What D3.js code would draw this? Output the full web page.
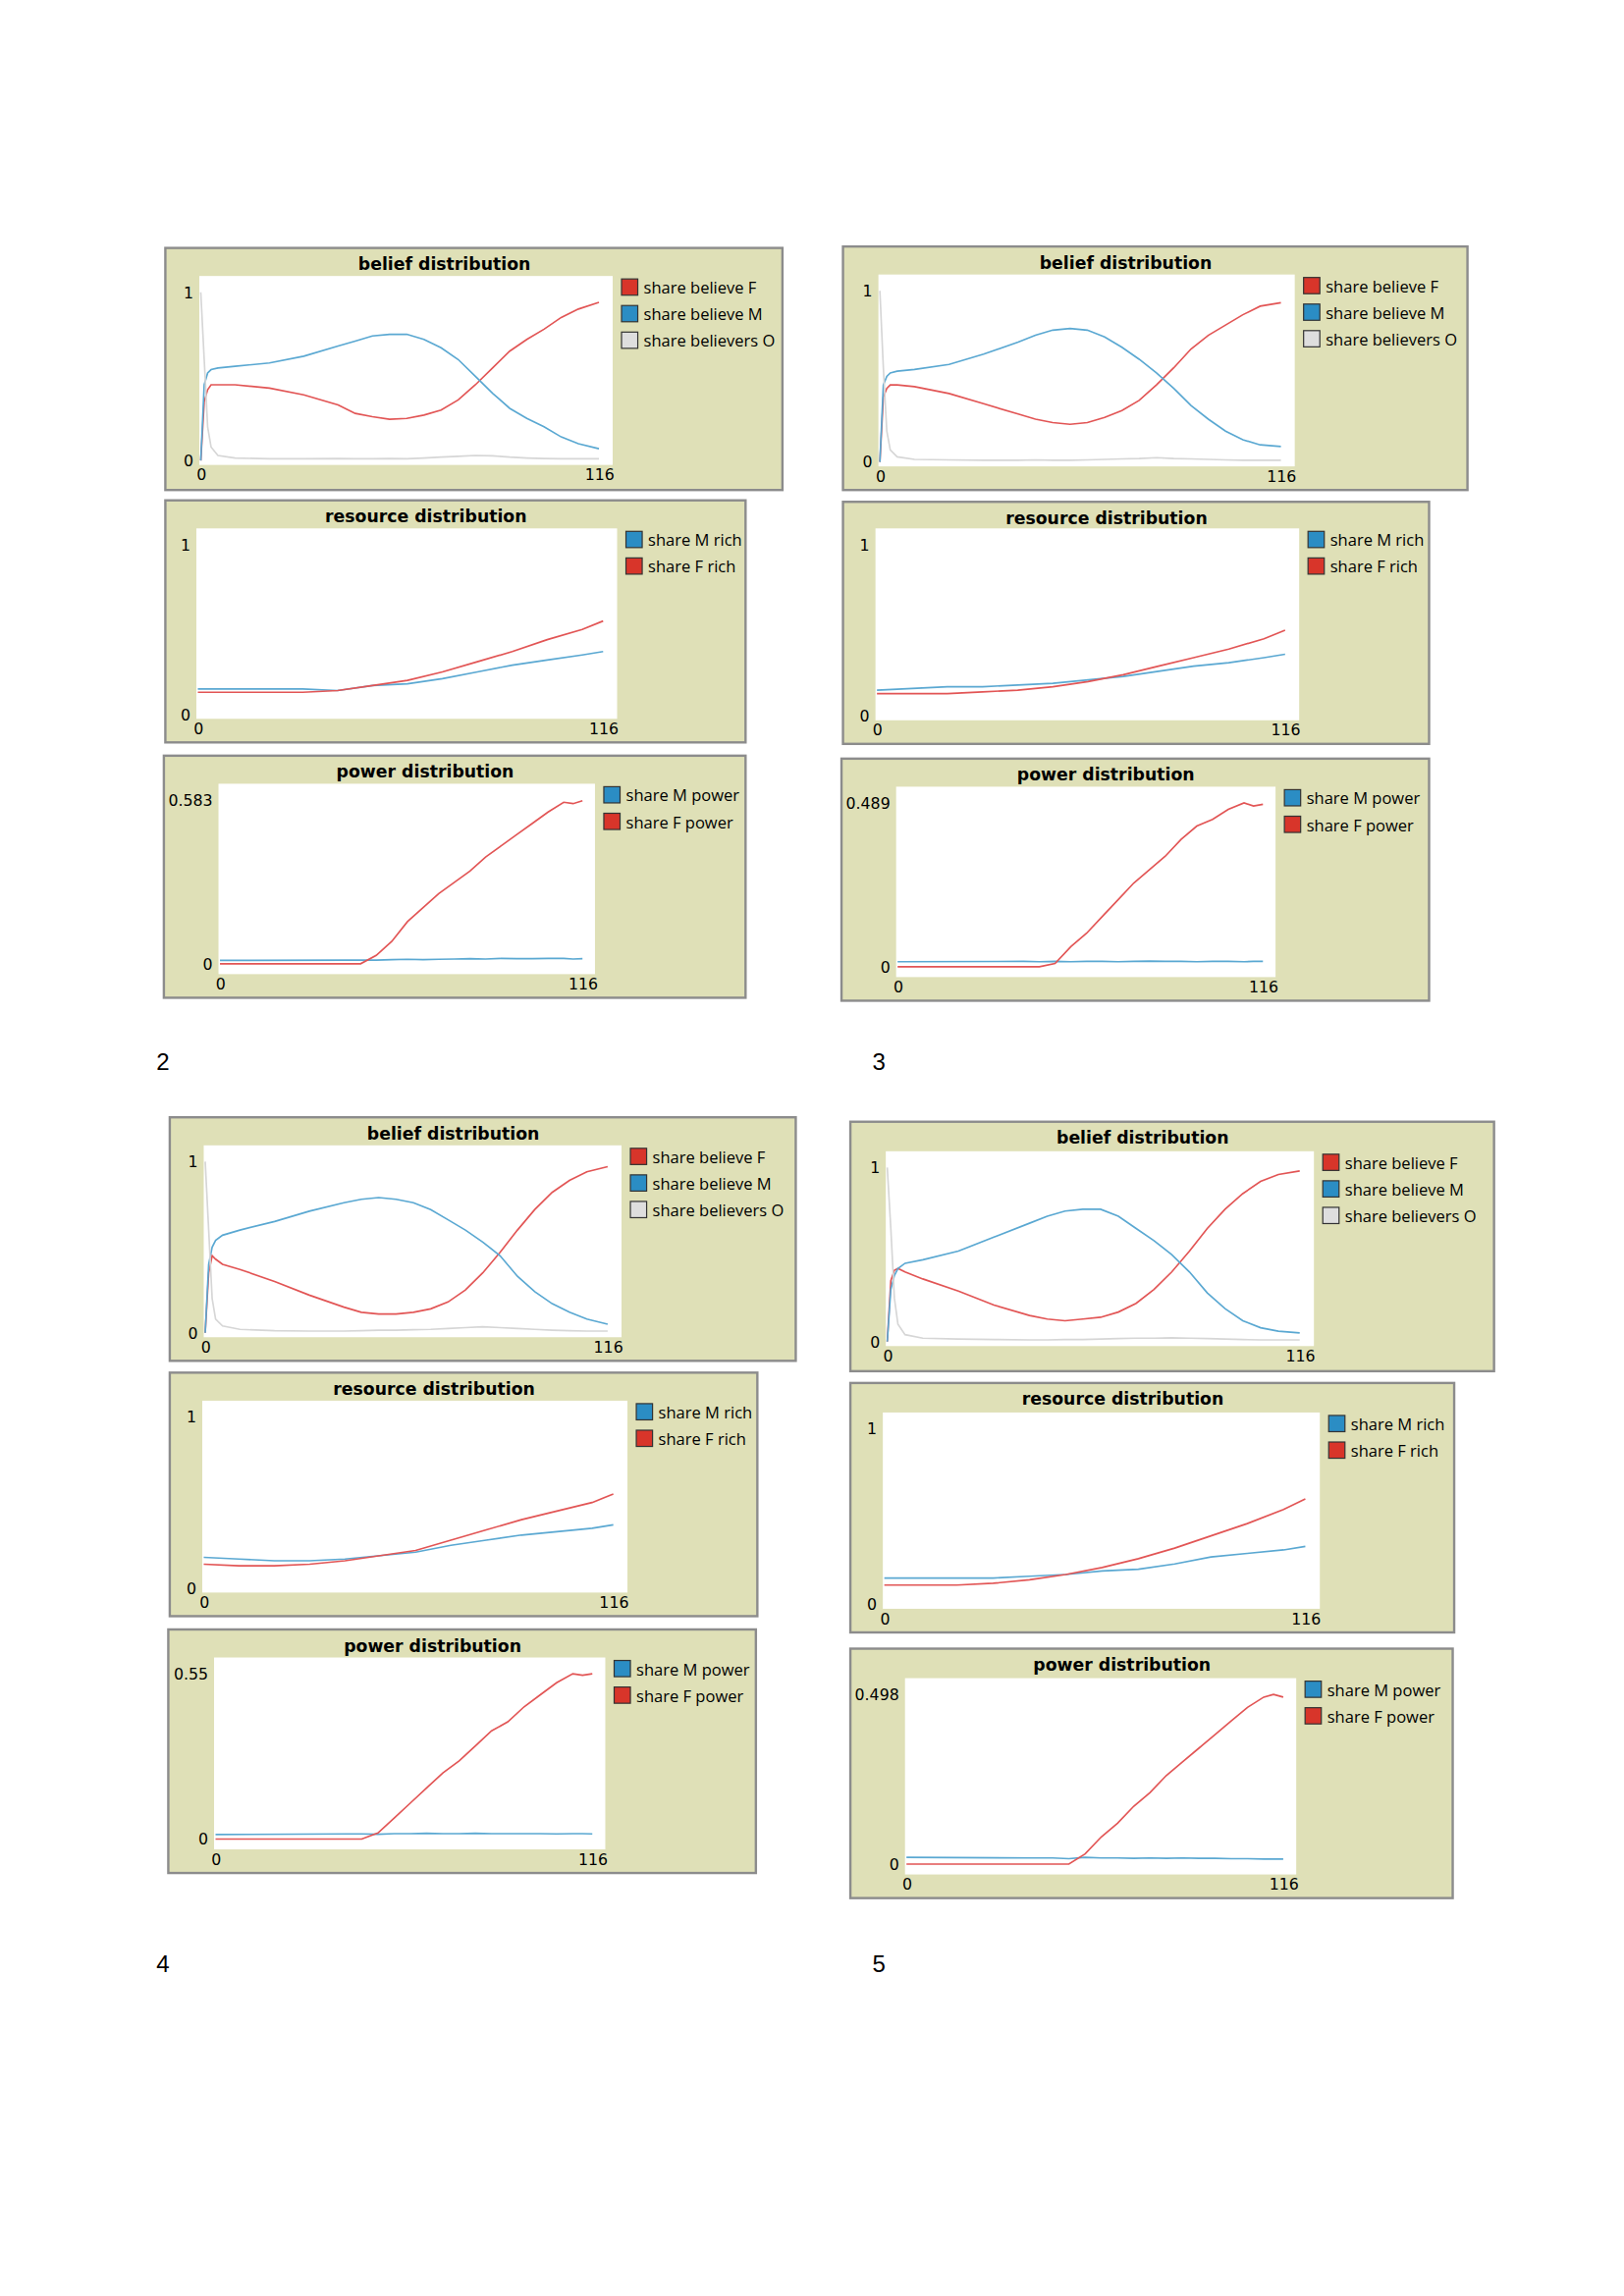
<!DOCTYPE html>
<html><head><meta charset="utf-8">
<script src="https://cdn.jsdelivr.net/npm/d3@7"></script>
<style>body{margin:0;background:#fff}</style>
</head><body>
<svg id="c" width="1654" height="2339"></svg>
<script>
// time indices
const tB = [0,1,2,3,5,10,20,30,40,45,50,55,60,65,70,75,80,85,90,95,100,105,110,116];
const tR = [0,10,20,30,40,50,60,70,80,90,100,110,116];
const tP = [0,40,45,50,55,60,65,70,75,80,85,90,95,100,105,110,113,116];

// belief distribution
const beliefF2 = [0,0.35,0.42,0.45,0.45,0.45,0.43,0.39,0.33,0.28,0.26,0.245,0.25,0.27,0.3,0.36,0.45,0.55,0.65,0.72,0.78,0.85,0.9,0.94];
const beliefM2 = [0,0.45,0.52,0.54,0.55,0.56,0.58,0.62,0.68,0.71,0.74,0.75,0.75,0.72,0.67,0.6,0.5,0.4,0.31,0.25,0.2,0.14,0.1,0.07];
const beliefO2 = [1,0.6,0.2,0.08,0.03,0.015,0.01,0.01,0.012,0.01,0.01,0.012,0.01,0.015,0.02,0.025,0.03,0.028,0.02,0.015,0.012,0.01,0.01,0.01];
const beliefF3 = [0,0.38,0.43,0.45,0.45,0.44,0.4,0.34,0.28,0.25,0.23,0.22,0.23,0.26,0.3,0.36,0.45,0.55,0.66,0.74,0.8,0.86,0.91,0.93];
const beliefM3 = [0,0.45,0.5,0.52,0.53,0.54,0.57,0.63,0.7,0.74,0.77,0.78,0.77,0.73,0.67,0.6,0.52,0.43,0.33,0.25,0.18,0.13,0.1,0.09];
const beliefO3 = [1,0.55,0.18,0.07,0.03,0.015,0.012,0.01,0.01,0.012,0.01,0.01,0.012,0.015,0.018,0.02,0.025,0.02,0.018,0.015,0.012,0.01,0.01,0.01];
const beliefF4 = [0,0.35,0.45,0.43,0.4,0.37,0.3,0.22,0.15,0.12,0.11,0.11,0.12,0.14,0.18,0.25,0.35,0.47,0.6,0.72,0.82,0.89,0.94,0.97];
const beliefM4 = [0,0.4,0.5,0.54,0.57,0.6,0.65,0.71,0.76,0.78,0.79,0.78,0.76,0.72,0.66,0.6,0.53,0.45,0.33,0.24,0.17,0.12,0.08,0.05];
const beliefO4 = [1,0.6,0.2,0.08,0.04,0.02,0.012,0.01,0.01,0.012,0.015,0.015,0.018,0.02,0.025,0.03,0.035,0.03,0.025,0.02,0.015,0.012,0.01,0.01];
const beliefF5 = [0,0.35,0.41,0.42,0.4,0.36,0.29,0.21,0.15,0.13,0.12,0.13,0.14,0.17,0.22,0.3,0.4,0.52,0.65,0.76,0.85,0.92,0.96,0.98];
const beliefM5 = [0,0.3,0.38,0.42,0.45,0.47,0.52,0.6,0.68,0.72,0.75,0.76,0.76,0.72,0.65,0.58,0.5,0.4,0.28,0.19,0.12,0.08,0.06,0.05];
const beliefO5 = [1,0.65,0.25,0.1,0.04,0.02,0.015,0.012,0.01,0.01,0.012,0.012,0.015,0.018,0.02,0.02,0.022,0.02,0.018,0.015,0.012,0.01,0.01,0.01];

// resource distribution
const richM2 = [0.15,0.15,0.15,0.15,0.14,0.17,0.18,0.21,0.25,0.29,0.32,0.35,0.37];
const richF2 = [0.13,0.13,0.13,0.13,0.14,0.17,0.2,0.25,0.31,0.37,0.44,0.5,0.55];
const richM3 = [0.15,0.16,0.17,0.17,0.18,0.19,0.21,0.23,0.26,0.29,0.31,0.34,0.36];
const richF3 = [0.13,0.13,0.13,0.14,0.15,0.17,0.2,0.24,0.29,0.34,0.39,0.45,0.5];
const richM4 = [0.18,0.17,0.16,0.16,0.17,0.19,0.21,0.25,0.28,0.31,0.33,0.35,0.37];
const richF4 = [0.14,0.13,0.13,0.14,0.16,0.19,0.22,0.28,0.34,0.4,0.45,0.5,0.55];
const richM5 = [0.15,0.15,0.15,0.15,0.16,0.17,0.19,0.2,0.23,0.27,0.29,0.31,0.33];
const richF5 = [0.11,0.11,0.11,0.12,0.14,0.17,0.21,0.26,0.32,0.39,0.46,0.54,0.6];

// power distribution
const powerF2 = [0,0,0,0.03,0.08,0.15,0.2,0.25,0.29,0.33,0.38,0.42,0.46,0.5,0.54,0.575,0.57,0.58];
const powerM2 = [0.012,0.013,0.013,0.013,0.015,0.016,0.015,0.016,0.017,0.018,0.017,0.019,0.018,0.018,0.019,0.019,0.017,0.018];
const powerF3 = [0,0,0,0.01,0.06,0.1,0.15,0.2,0.25,0.29,0.33,0.38,0.42,0.44,0.47,0.489,0.48,0.485];
const powerM3 = [0.015,0.016,0.015,0.016,0.015,0.016,0.016,0.015,0.016,0.017,0.016,0.016,0.015,0.016,0.016,0.015,0.016,0.016];
const powerF4 = [0,0,0,0.02,0.07,0.12,0.17,0.22,0.26,0.31,0.36,0.39,0.44,0.48,0.52,0.55,0.545,0.55];
const powerM4 = [0.015,0.017,0.017,0.016,0.018,0.018,0.019,0.018,0.018,0.019,0.018,0.018,0.018,0.018,0.017,0.018,0.018,0.017];
const powerF5 = [0,0,0,0,0.03,0.08,0.12,0.17,0.21,0.26,0.3,0.34,0.38,0.42,0.46,0.49,0.498,0.49];
const powerM5 = [0.02,0.018,0.018,0.016,0.02,0.018,0.018,0.017,0.018,0.017,0.018,0.017,0.017,0.016,0.016,0.015,0.015,0.015];
const powerMax = [0.583, 0.489, 0.55, 0.498];

const RED = '#e25555', BLUE = '#5aa8d2', GRAY = '#d6d6d6';
const SW = {red:'#d8352a', blue:'#2b8dc4', gray:'#dedede'};

// panel geometry in reference display units (scaled below)
const panels = [
  {kind:'belief', box:[112,168,530,332], plot:[135,187,415,315], t:tB, s:[[beliefF2,RED],[beliefM2,BLUE],[beliefO2,GRAY]]},
  {kind:'resource', box:[112,339,505,503], plot:[133,358,418,487], t:tR, s:[[richM2,BLUE],[richF2,RED]]},
  {kind:'power', box:[111,512,505,676], plot:[148,531,403,660], t:tP, s:[[powerM2,BLUE],[powerF2,RED]], max:powerMax[0]},
  {kind:'belief', box:[571,167,994,332], plot:[595,186,877,316], t:tB, s:[[beliefF3,RED],[beliefM3,BLUE],[beliefO3,GRAY]]},
  {kind:'resource', box:[571,340,968,504], plot:[593,358,880,488], t:tR, s:[[richM3,BLUE],[richF3,RED]]},
  {kind:'power', box:[570,514,968,678], plot:[607,533,864,662], t:tP, s:[[powerM3,BLUE],[powerF3,RED]], max:powerMax[1]},
  {kind:'belief', box:[115,757,539,922], plot:[138,776,421,906], t:tB, s:[[beliefF4,RED],[beliefM4,BLUE],[beliefO4,GRAY]]},
  {kind:'resource', box:[115,930,513,1095], plot:[137,949,425,1079], t:tR, s:[[richM4,BLUE],[richF4,RED]]},
  {kind:'power', box:[114,1104,512,1269], plot:[145,1123,410,1253], t:tP, s:[[powerM4,BLUE],[powerF4,RED]], max:powerMax[2]},
  {kind:'belief', box:[576,760,1012,929], plot:[600,780,890,912], t:tB, s:[[beliefF5,RED],[beliefM5,BLUE],[beliefO5,GRAY]]},
  {kind:'resource', box:[576,937,985,1106], plot:[598,957,894,1090], t:tR, s:[[richM5,BLUE],[richF5,RED]]},
  {kind:'power', box:[576,1117,984,1286], plot:[613,1137,878,1270], t:tP, s:[[powerM5,BLUE],[powerF5,RED]], max:powerMax[3]},
];
const titles = {belief:'belief distribution', resource:'resource distribution', power:'power distribution'};
const legends = {
  belief:[['share believe F',SW.red],['share believe M',SW.blue],['share believers O',SW.gray]],
  resource:[['share M rich',SW.blue],['share F rich',SW.red]],
  power:[['share M power',SW.blue],['share F power',SW.red]],
};
const groupLabels = [['2',106,725],['3',591,725],['4',106,1336],['5',591,1336]];

const svg = d3.select('#c');
const root = svg.append('g').attr('transform','scale(1.5036)');
const font = 'DejaVu Sans, Verdana, sans-serif';

panels.forEach(p => {
  const [bx0,by0,bx1,by1] = p.box, [px0,py0,px1,py1] = p.plot;
  const g = root.append('g');
  g.append('rect').attr('x',bx0).attr('y',by0).attr('width',bx1-bx0).attr('height',by1-by0)
    .attr('fill','#dfe0b7').attr('stroke','#8c8c8c').attr('stroke-width',1.6);
  g.append('rect').attr('x',px0).attr('y',py0).attr('width',px1-px0).attr('height',py1-py0).attr('fill','#fff');
  g.append('text').attr('x',(bx0+bx1)/2 - 20).attr('y',by0+15).attr('text-anchor','middle')
    .attr('font-family',font).attr('font-weight','bold').attr('font-size',11.5).text(titles[p.kind]);

  const ymax = p.kind === 'power' ? p.max : 1;
  const x = d3.scaleLinear().domain([0,120]).range([px0+1, px1]);
  const y = p.kind === 'power'
    ? d3.scaleLinear().domain([0,ymax]).range([py1-7, py0+11])
    : d3.scaleLinear().domain([0,1]).range([py1-3, py0+11]);

  const yAxis = d3.axisLeft(y).tickValues([0,ymax]).tickSize(0).tickPadding(4)
    .tickFormat(v => v === 0 ? '0' : String(ymax));
  const ya = g.append('g').attr('transform',`translate(${px0},0)`).call(yAxis);
  ya.select('.domain').remove();
  ya.selectAll('text').attr('font-family',font).attr('font-size',10.5).attr('fill','#000');

  const xAxis = d3.axisBottom(x).tickValues([0,116]).tickSize(0).tickPadding(3);
  const xa = g.append('g').attr('transform',`translate(0,${py1})`).call(xAxis);
  xa.select('.domain').remove();
  xa.selectAll('text').attr('font-family',font).attr('font-size',10.5).attr('fill','#000');

  const line = d3.line().x((d,i) => x(p.t[i])).y(d => y(d));
  p.s.forEach(([vals,col]) => {
    g.append('path').datum(vals).attr('d',line).attr('fill','none')
      .attr('stroke',col).attr('stroke-width',1.1);
  });

  legends[p.kind].forEach(([lab,col],i) => {
    const lx = px1 + 6, ly = py0 + 2 + i*18;
    g.append('rect').attr('x',lx).attr('y',ly).attr('width',11).attr('height',11)
      .attr('fill',col).attr('stroke','#333').attr('stroke-width',0.8);
    g.append('text').attr('x',lx+15).attr('y',ly+10).attr('font-family','Open Sans, sans-serif')
      .attr('font-size',11).text(lab);
  });
});

groupLabels.forEach(([t,gx,gy]) => {
  root.append('text').attr('x',gx).attr('y',gy).attr('font-family','Liberation Sans, Arial, sans-serif')
    .attr('font-size',16).text(t);
});
</script>
</body></html>
